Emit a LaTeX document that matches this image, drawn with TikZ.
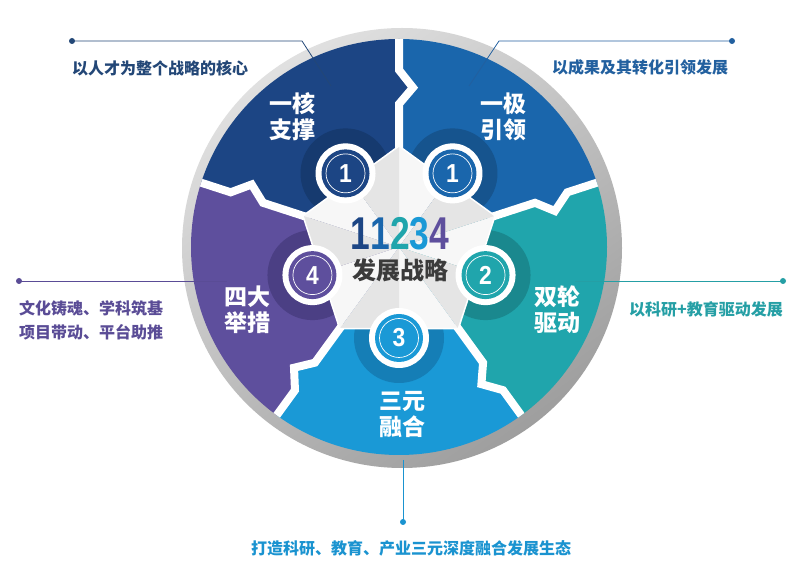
\documentclass[tikz,border=0pt]{standalone}
\usepackage{fontspec}
\usepackage{graphicx}
\newfontfamily\cjk{Noto Sans CJK SC}
\newfontfamily\digitfont{Liberation Sans}
\definecolor{cA}{HTML}{1C4584}
\definecolor{cB}{HTML}{1A66AC}
\definecolor{cC}{HTML}{20A5AC}
\definecolor{cD}{HTML}{1A99D6}
\definecolor{cE}{HTML}{5E4F9D}
\definecolor{hA}{HTML}{163A6F}
\definecolor{hB}{HTML}{16548E}
\definecolor{hC}{HTML}{1A888E}
\definecolor{hD}{HTML}{157EB6}
\definecolor{hE}{HTML}{4B3F84}
\definecolor{tA}{HTML}{234777}
\definecolor{tB}{HTML}{22609F}
\definecolor{tC}{HTML}{259FA5}
\definecolor{tD}{HTML}{1A93D0}
\definecolor{tE}{HTML}{5A4C96}
\definecolor{titlegray}{HTML}{3B3B3B}
\tikzset{
  seglabel/.style={text=white, align=center, inner sep=0pt,
    font=\cjk\bfseries\fontsize{23}{26}\selectfont},
  numtxt/.style={text=white, inner sep=0pt,
    font=\digitfont\bfseries\fontsize{26}{26}\selectfont},
  annot/.style={inner sep=0pt, font=\cjk\bfseries\fontsize{16}{24}\selectfont},
  annline/.style={line width=0.8pt},
  gapline/.style={white, line width=8pt, line join=miter, miter limit=10},
}
\begin{document}
\begin{tikzpicture}[x=1pt,y=1pt]
\useasboundingbox (0,0) rectangle (800,583);
\fill[white] (0,0) rectangle (800,583);

% grey rim
\shade[top color=black!12, bottom color=black!38, shading angle=35] (402,335) circle (220pt);

\begin{scope}[shift={(399,336)}]
  \begin{scope}
    \clip (0,0) circle (208pt);
    \foreach \a/\col in {126/cA, 54/cB, -18/cC, -90/cD, 198/cE} {
      \pgfmathsetmacro\lo{\a-36}
      \pgfmathsetmacro\hi{\a+36}
      \fill[\col] (0,0) -- (\lo:143) -- (\lo-5:160) -- (\lo:177) -- (\lo:300)
        -- (\a:300) -- (\hi:300) -- (\hi:177) -- (\hi-5:160) -- (\hi:143) -- cycle;
    }
    \foreach \b in {90,18,-54,-126,162} {
      \draw[gapline] (\b:95) -- (\b:143) -- (\b-5:160) -- (\b:177) -- (\b:230);
    }
    \foreach \a/\h in {126/hA, 54/hB, -18/hC, -90/hD, 198/hE} {
      \fill[\h] (\a:91) circle (45pt);
    }
  \end{scope}
  % pentagon
  \foreach \v in {90,18,-54,-126,162} {
    \fill[black!3] (0,0) -- (\v:101) -- (\v-36:81.7) -- cycle;
    \fill[black!10] (0,0) -- (\v:101) -- (\v+36:81.7) -- cycle;
  }
  \draw[white, line width=1.5pt, line join=miter] (90:101) -- (18:101) -- (-54:101) -- (-126:101) -- (162:101) -- cycle;
  % number badges
  \foreach \a/\col/\n/\nm in {126/cA/1/nA, 54/cB/1/nB, -18/cC/2/nC, -90/cD/3/nD, 198/cE/4/nE} {
    \fill[white] (\a:91) circle (30pt);
    \fill[\col] (\a:91) circle (24pt);
    \draw[white, line width=0.7pt] (\a:91) circle (19.5pt);
    \node[numtxt] (\nm) at (\a:91) {\scalebox{0.88}[1]{\n}};
  }
\end{scope}

% segment labels
\node[seglabel] (lA) at (292,466) {一核\\支撑};
\node[seglabel] (lB) at (503,466) {一极\\引领};
\node[seglabel] (lC) at (557,273) {双轮\\驱动};
\node[seglabel] (lD) at (402,168) {三元\\融合};
\node[seglabel] (lE) at (247,273) {四大\\举措};

% centre title
\node[inner sep=0pt] (numtitle) at (400,349) {\digitfont\bfseries\fontsize{46}{46}\selectfont
  \scalebox{0.77}[1]{\textcolor{cA}{1}\textcolor{cB}{1}\textcolor{cC}{2}\textcolor{cD}{3}\textcolor{cE}{4}}};
\node[inner sep=0pt, text=titlegray] (title) at (400,313) {\cjk\bfseries\fontsize{24}{24}\selectfont 发展战略};

% annotations: top left
\coordinate (tlDot) at (72,542);
\coordinate (tlBend) at (302,542);
\coordinate (tlEnd) at (331,497);
\draw[annline, tA] (tlDot) -- (tlBend) -- (tlEnd);
\fill[tA] (tlDot) circle (3pt);
\node[annot, text=tA, anchor=west] (tlText) at (72,515) {以人才为整个战略的核心};

% top right
\coordinate (trDot) at (732,542);
\coordinate (trBend) at (499,542);
\coordinate (trEnd) at (469,497);
\draw[annline, tB] (trDot) -- (trBend) -- (trEnd);
\fill[tB] (trDot) circle (3pt);
\node[annot, text=tB, anchor=west] (trText) at (552,516) {以成果及其转化引领发展};

% left
\coordinate (lDot) at (19,302);
\coordinate (lEnd) at (227,302);
\draw[annline, tE] (lDot) -- (lEnd);
\fill[tE] (lDot) circle (3pt);
\node[annot, text=tE, anchor=west, align=left] (lText) at (19,263) {文化铸魂、学科筑基\\项目带动、平台助推};

% right
\coordinate (rDot) at (783,302);
\coordinate (rEnd) at (575,302);
\draw[annline, tC] (rDot) -- (rEnd);
\fill[tC] (rDot) circle (3pt);
\node[annot, text=tC, anchor=east] (rText) at (783,274) {以科研+教育驱动发展};

% bottom
\coordinate (bTop) at (403,123);
\coordinate (bDot) at (403,61);
\draw[annline, tD] (bTop) -- (bDot);
\fill[tD] (bDot) circle (3pt);
\node[annot, text=tD] (bText) at (411,35) {打造科研、教育、产业三元深度融合发展生态};
\end{tikzpicture}
\end{document}
